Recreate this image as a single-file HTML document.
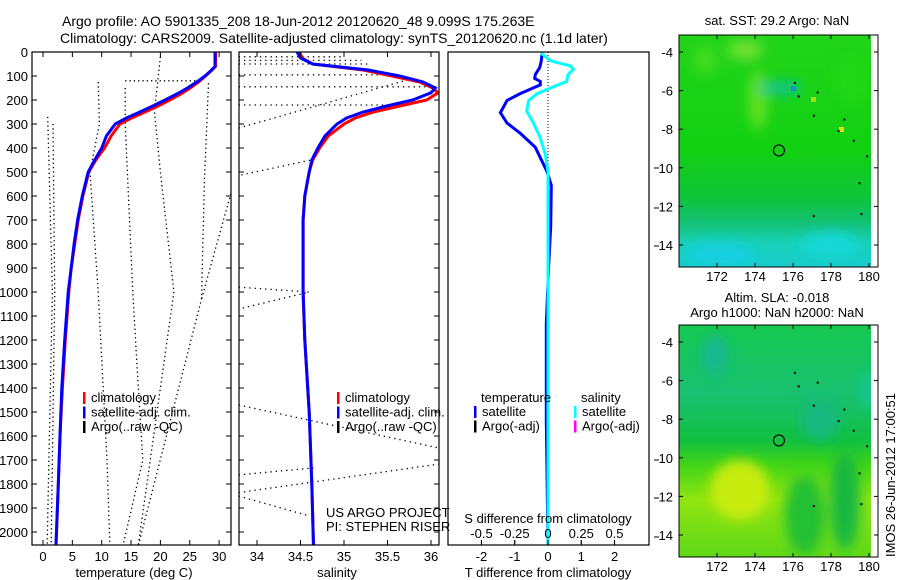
<!DOCTYPE html>
<html><head><meta charset="utf-8"><style>
html,body{margin:0;padding:0;background:#fff;}
svg{display:block;font-family:"Liberation Sans",sans-serif;}
text{fill:#000;}
</style></head><body>
<svg id="fig" width="900" height="580" viewBox="0 0 900 580" xmlns="http://www.w3.org/2000/svg">
<defs>
<linearGradient id="g1" x1="0" y1="0" x2="0" y2="1">
<stop offset="0" stop-color="#22d41a"/><stop offset="0.5" stop-color="#12d012"/><stop offset="0.7" stop-color="#10c43a"/><stop offset="0.8" stop-color="#12c070"/><stop offset="0.9" stop-color="#18d0b8"/><stop offset="1" stop-color="#18cccc"/>
</linearGradient>
<linearGradient id="g2" x1="0" y1="0" x2="0" y2="1">
<stop offset="0" stop-color="#16c850"/><stop offset="0.3" stop-color="#18c070"/><stop offset="0.5" stop-color="#12c040"/><stop offset="0.6" stop-color="#40d418"/><stop offset="0.75" stop-color="#90e410"/><stop offset="1" stop-color="#60d818"/>
</linearGradient>
<filter id="blur"><feGaussianBlur stdDeviation="6"/></filter>
<clipPath id="c1"><rect x="679" y="35" width="192" height="232"/></clipPath>
<clipPath id="c2"><rect x="679" y="325" width="192" height="232"/></clipPath>
</defs>
<text x="62" y="26" font-size="14">Argo profile: AO 5901335_208 18-Jun-2012 20120620_48 9.099S 175.263E</text>
<text x="60" y="43" font-size="14">Climatology: CARS2009. Satellite-adjusted climatology: synTS_20120620.nc (1.1d later)</text>
<g id="p1"></g>
<g id="p2"></g>
<g id="p3"></g>
<g id="m1">
<rect x="679" y="35" width="192" height="232" fill="url(#g1)"/>
<g clip-path="url(#c1)" filter="url(#blur)">
<ellipse cx="745" cy="50" rx="18" ry="10" fill="#70e030"/>
<ellipse cx="705" cy="60" rx="12" ry="14" fill="#40dc20"/>
<ellipse cx="758" cy="100" rx="10" ry="30" fill="#60e020"/>
<ellipse cx="780" cy="88" rx="22" ry="6" fill="#10c0a0"/>
<ellipse cx="850" cy="80" rx="15" ry="25" fill="#20d818"/>
<ellipse cx="720" cy="255" rx="35" ry="12" fill="#18d0e0"/>
<ellipse cx="830" cy="245" rx="30" ry="12" fill="#18d8d8"/>
</g>
<rect x="791" y="86" width="5" height="5" fill="#1890e0"/>
<rect x="811" y="97" width="5" height="5" fill="#a0e010"/>
<rect x="839" y="127" width="5" height="5" fill="#e0e010"/>
<rect x="871" y="35" width="7" height="232" fill="#fff"/>
<rect x="679" y="35" width="199" height="232" fill="none" stroke="#000"/>
</g>
<g id="m2">
<rect x="679" y="325" width="192" height="232" fill="url(#g2)"/>
<g clip-path="url(#c2)" filter="url(#blur)">
<ellipse cx="715" cy="355" rx="14" ry="20" fill="#18b890"/>
<ellipse cx="820" cy="420" rx="20" ry="20" fill="#18b880"/>
<ellipse cx="740" cy="490" rx="30" ry="30" fill="#c8ec10"/>
<ellipse cx="805" cy="515" rx="20" ry="40" fill="#20c030"/>
<ellipse cx="845" cy="500" rx="15" ry="50" fill="#18b840"/>
<ellipse cx="868" cy="390" rx="5" ry="20" fill="#18c8a0"/>
</g>
<rect x="871" y="325" width="7" height="232" fill="#fff"/>
<rect x="679" y="325" width="199" height="232" fill="none" stroke="#000"/>
</g>
<g id="maxes"></g>
<text x="777" y="25" font-size="13" text-anchor="middle">sat. SST: 29.2 Argo: NaN</text>
<text x="777" y="302" font-size="13" text-anchor="middle">Altim. SLA: -0.018</text>
<text x="777" y="317" font-size="13" text-anchor="middle">Argo h1000: NaN h2000: NaN</text>
<text transform="translate(895,475) rotate(-90)" font-size="13" text-anchor="middle">IMOS 26-Jun-2012 17:00:51</text>
</svg>
<script>
const NS="http://www.w3.org/2000/svg";
// ---- data ----
const depths=[0,60,80,100,125,150,175,200,225,250,275,300,350,400,450,500,600,700,800,900,1000,1200,1400,1600,1800,2000,2060];
const tempClim=[29.4,29.4,28.6,27.7,26.5,25.1,23.5,21.6,19.6,17.4,15.1,13.1,11.6,10.5,9.0,7.8,6.8,6.0,5.4,4.8,4.4,3.8,3.3,2.9,2.6,2.3,2.2];
const tempSat=[29.3,29.3,28.5,27.6,26.2,24.6,22.8,20.8,18.7,16.5,14.2,12.3,10.8,10.0,8.8,7.7,6.7,5.9,5.3,4.8,4.3,3.7,3.2,2.9,2.6,2.3,2.2];
const salDepths=[0,25,50,75,100,125,150,170,200,225,250,275,300,350,400,450,500,600,700,1000,1200,1500,1800,2060];
const salClim=[34.49,34.52,34.64,35.22,35.55,35.87,36.02,36.08,35.95,35.64,35.34,35.13,35.0,34.82,34.72,34.64,34.6,34.55,34.53,34.53,34.55,34.6,34.63,34.65];
const salSat=[34.46,34.5,34.64,35.28,35.64,35.91,36.05,36.0,35.79,35.49,35.22,35.03,34.92,34.78,34.7,34.63,34.6,34.55,34.53,34.53,34.55,34.6,34.63,34.65];
const argoTLines=[
 [[0.8,270],[1.6,1000],[0.7,2060]],
 [[1.7,300],[2.0,1000],[1.4,2060]],
 [[9.4,125],[9.6,300],[8,500],[9.4,1000],[10.9,1700],[11.4,2060]],
 [[14,120],[27,120]],
 [[14,150],[14,300],[15.3,1000],[16,1300],[17,1700],[13.6,2060]],
 [[20,20],[19,250],[20,500],[22.3,1000],[16.2,2060]],
 [[28.2,130],[27.5,540],[27,1030],[16.2,2060]],
 [[32,590],[27,1030]]
];
const argoSLines=[
 [[33.79,20],[35.0,20]],[[33.79,35],[35.2,35]],[[33.79,50],[35.3,50]],
 [[33.79,95],[35.5,95]],[[33.79,145],[36.09,145]],[[33.79,221],[35.8,221]],
 [[33.79,317],[35.72,117]],[[33.82,512],[34.62,450]],
 [[33.79,980],[34.6,1000],[33.79,1071]],
 [[33.79,1471],[36.09,1650]],[[33.79,1762],[34.65,1733]],
 [[33.79,1836],[36.09,1717]],[[33.79,1850],[34.57,1930]]
];
const diffTDepths=[0,8,37,65,94,110,123,137,173,202,253,296,339,397,455,498,556,729,887,1132,1536,2060];
const diffT=[-0.18,-0.18,-0.2,-0.25,-0.38,-0.4,-0.23,-0.23,-0.83,-1.23,-1.43,-1.23,-0.83,-0.38,-0.18,-0.03,0.1,0.08,0.02,-0.05,-0.05,0.0];
const diffSDepths=[0,8,37,58,73,94,123,145,173,202,246,296,354,426,498,2060];
const diffS=[-0.045,-0.045,0.02,0.17,0.19,0.15,0.14,0.04,-0.08,-0.145,-0.16,-0.11,-0.06,-0.02,0,0];
const depthTicks=[0,100,200,300,400,500,600,700,800,900,1000,1100,1200,1300,1400,1500,1600,1700,1800,1900,2000];
const tempTicks=[0,5,10,15,20,25,30];
const salTicks=[34,34.5,35,35.5,36];
const salTickLabels=["34","34.5","35","35.5","36"];
const tdTicks=[-2,-1,0,1,2];
const sdTicks=[-0.5,-0.25,0,0.25,0.5];
const lonTicks=[172,174,176,178,180];
const latTicks=[-4,-6,-8,-10,-12,-14];
const latLabels=["-4","-6","-8","10","12","14"];
const islands=[[176.1,-5.6],[176.3,-6.3],[177.3,-6.1],[177.1,-7.3],[178.7,-7.5],[178.4,-8.1],[179.2,-8.6],[179.9,-9.4],[179.5,-10.8],[177.1,-12.5],[179.6,-12.4]];
const argoPos=[175.26,-9.1];
// ---- scales ----
const Y0=52,Y1=545;
const yD=d=>Y0+d*0.24;
const xT=t=>43+(t)*5.87;
const xS=s=>257+(s-34)*87;
const xTd=v=>548+v*33.3;
const xSd=v=>548+v*133;
const xLon=l=>717+(l-172)*19;
const yLat1=l=>52+(-4-l)*19.3;
const yLat2=l=>342+(-4-l)*19.3;
function el(p,tag,a){const e=document.createElementNS(NS,tag);for(const k in a)e.setAttribute(k,a[k]);p.appendChild(e);return e;}
function txt(p,x,y,s,anc,fs){const t=el(p,'text',{x:x,y:y,'font-size':fs||13,'text-anchor':anc||'middle'});t.textContent=s;return t;}
function poly(p,pts,col,w,dash){return el(p,'polyline',{points:pts.map(q=>q[0].toFixed(1)+','+q[1].toFixed(1)).join(' '),fill:'none',stroke:col,'stroke-width':w,'stroke-dasharray':dash||'none'});}
function box(p,x0,x1){el(p,'rect',{x:x0,y:Y0,width:x1-x0,height:Y1-Y0,fill:'none',stroke:'#000','stroke-width':1.2});}
function clip(id,x0,x1){const d=document.querySelector('defs');const c=el(d,'clipPath',{id:id});el(c,'rect',{x:x0,y:Y0,width:x1-x0,height:Y1-Y0});}
const p1=document.getElementById('p1'),p2=document.getElementById('p2'),p3=document.getElementById('p3');
clip('cp1',32,231);clip('cp2',239,439);clip('cp3',448,649);
// panel 1
depthTicks.forEach(d=>{
 const t=txt(p1,28,yD(d)+5,String(d),'end',13);
 
 
 el(p1,'line',{x1:32,x2:37,y1:yD(d),y2:yD(d),stroke:'#000'});
 el(p1,'line',{x1:226,x2:231,y1:yD(d),y2:yD(d),stroke:'#000'});
 el(p2,'line',{x1:239,x2:244,y1:yD(d),y2:yD(d),stroke:'#000'});
 el(p2,'line',{x1:434,x2:439,y1:yD(d),y2:yD(d),stroke:'#000'});
});
const g1=el(p1,'g',{'clip-path':'url(#cp1)'});
argoTLines.forEach(l=>{const e=poly(g1,l.map(q=>[xT(q[0]),yD(q[1])]),'#000',1.3,'1.3 3');
 
 });
let e1=poly(g1,depths.map((d,i)=>[xT(tempClim[i]),yD(d)]),'#f00',3);


let e2=poly(g1,depths.map((d,i)=>[xT(tempSat[i]),yD(d)]),'#00f',3);


box(p1,32,231);
tempTicks.forEach(t=>{const x=xT(t);el(p1,'line',{x1:x,x2:x,y1:Y1,y2:Y1-5,stroke:'#000'});el(p1,'line',{x1:x,x2:x,y1:Y0,y2:Y0+5,stroke:'#000'});
 const l=txt(p1,x,561,String(t));
 
 });
let xl=txt(p1,134,577,'temperature (deg C)');


function legend(p,x,y,items){items.forEach((it,i)=>{el(p,'rect',{x:x,y:y+i*14.5-10,width:2.5,height:12,fill:it[0]});
 const t=txt(p,x+8,y+i*14.5,it[1],'start',13);
 
 });}
legend(p1,83,402,[['#f00','climatology'],['#00f','satellite-adj. clim.'],['#000','Argo(..raw -QC)']]);
// panel 2
const g2=el(p2,'g',{'clip-path':'url(#cp2)'});
argoSLines.forEach(l=>{const e=poly(g2,l.map(q=>[xS(q[0]),yD(q[1])]),'#000',1.3,'1.3 4');
 
 });
let s1=poly(g2,salDepths.map((d,i)=>[xS(salClim[i]),yD(d)]),'#f00',3);


let s2=poly(g2,salDepths.map((d,i)=>[xS(salSat[i]),yD(d)]),'#00f',3);


box(p2,239,439);
salTicks.forEach((s,i)=>{const x=xS(s);el(p2,'line',{x1:x,x2:x,y1:Y1,y2:Y1-5,stroke:'#000'});el(p2,'line',{x1:x,x2:x,y1:Y0,y2:Y0+5,stroke:'#000'});
 const l=txt(p2,x,561,salTickLabels[i]);
 
 });
let sl=txt(p2,337,577,'salinity');


legend(p2,337,402,[['#f00','climatology'],['#00f','satellite-adj. clim.'],['#000','Argo(..raw -QC)']]);
let pr=txt(p2,326,517,'US ARGO PROJECT','start',13);


let pi=txt(p2,326,531,'PI: STEPHEN RISER','start',13);


// panel 3
const g3=el(p3,'g',{'clip-path':'url(#cp3)'});
el(g3,'line',{x1:548,x2:548,y1:Y0,y2:yD(520),stroke:'#000','stroke-dasharray':'1 2'});
let d1=poly(g3,diffTDepths.map((d,i)=>[xTd(diffT[i]),yD(d)]),'#00f',3);


let d2=poly(g3,diffSDepths.map((d,i)=>[xSd(diffS[i]),yD(d)]),'#0ff',3);


box(p3,448,649);
tdTicks.forEach(t=>{const x=xTd(t);el(p3,'line',{x1:x,x2:x,y1:Y1,y2:Y1-5,stroke:'#000'});
 const l=txt(p3,x,561,String(t));
 
 });
sdTicks.forEach(s=>{const x=xSd(s);el(p3,'line',{x1:x,x2:x,y1:Y1-1,y2:Y1-5,stroke:'#000'});
 const l=txt(p3,x,538,String(s));
 
 });
let tt=txt(p3,548,577,'T difference from climatology');


let st=txt(p3,548,523,'S difference from climatology');


let lt=txt(p3,481,402,'temperature','start',13);


let ls=txt(p3,581,402,'salinity','start',13);


legend(p3,474,416,[['#00f','satellite'],['#000','Argo(-adj)']]);
legend(p3,574,416,[['#0ff','satellite'],['#f0f','Argo(-adj)']]);
[168,208,246,460,498,537].forEach(y=>el(p3,'line',{x1:654,x2:659,y1:y,y2:y,stroke:'#000'}));
// map axes
const ma=document.getElementById('maxes');
[[35,267,yLat1],[325,557,yLat2]].forEach((m,mi)=>{
 lonTicks.forEach(l=>{const x=xLon(l);el(ma,'line',{x1:x,x2:x,y1:m[1],y2:m[1]-4,stroke:'#000'});el(ma,'line',{x1:x,x2:x,y1:m[0],y2:m[0]+4,stroke:'#000'});
  const t=txt(ma,x,m[1]+14,String(l));
  
  });
 latTicks.forEach((l,i)=>{const y=m[2](l);el(ma,'line',{x1:679,x2:683,y1:y,y2:y,stroke:'#000'});el(ma,'line',{x1:874,x2:878,y1:y,y2:y,stroke:'#000'});
  const t=txt(ma,673,y+5,latLabels[i],'end');
  
  });
 islands.forEach(p=>el(ma,'rect',{x:xLon(p[0])-1,y:m[2](p[1])-1,width:2,height:2,fill:'#000'}));
 const c=el(ma,'circle',{cx:xLon(argoPos[0]),cy:m[2](argoPos[1]),r:5.5,fill:'none',stroke:'#000','stroke-width':1.2});
 
 
});
</script>
</body></html>
